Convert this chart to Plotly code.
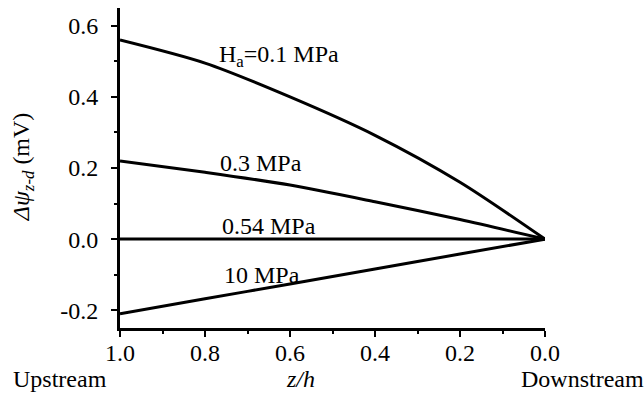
import plotly.graph_objects as go

z = [1.0, 0.8, 0.6, 0.4, 0.2, 0.0]
psi_01 = [0.56, 0.495, 0.40, 0.292, 0.16, 0.0]
psi_03 = [0.22, 0.188, 0.152, 0.105, 0.055, 0.0]
psi_054 = [0.0, 0.0, 0.0, 0.0, 0.0, 0.0]
psi_10 = [-0.21, -0.168, -0.126, -0.084, -0.042, 0.0]
labels = ["H<sub>a</sub>=0.1 MPa", "0.3 MPa", "0.54 MPa", "10 MPa"]
label_x = [0.772, 0.769, 0.765, 0.76]
label_y = [0.516, 0.213, 0.036, -0.101]
xticks = [1.0, 0.8, 0.6, 0.4, 0.2, 0.0]
yticks = [-0.2, 0.0, 0.2, 0.4, 0.6]

FONT = "Liberation Serif, Times New Roman, serif"
fs = 24

fig = go.Figure()
for ys in [psi_01, psi_03, psi_054, psi_10]:
    fig.add_trace(go.Scatter(x=z, y=ys, mode="lines",
                             line=dict(color="black", width=3, shape="spline", smoothing=0.8),
                             showlegend=False))

for t, lx, ly in zip(labels, label_x, label_y):
    fig.add_annotation(x=lx, y=ly, xref="x", yref="y", text=t, showarrow=False,
                       xanchor="left", yanchor="middle",
                       font=dict(family=FONT, size=fs, color="black"))

fig.add_annotation(x=-0.228, y=0.503, xref="paper", yref="paper",
                   text="<i>Δψ<sub>z-d</sub></i> (mV)", textangle=-90,
                   xanchor="center", yanchor="middle",
                   showarrow=False, font=dict(family=FONT, size=fs, color="black"))
fig.add_annotation(x=0.424, y=-0.16, xref="paper", yref="paper",
                   text="<i>z/h</i>", showarrow=False,
                   xanchor="center", yanchor="middle",
                   font=dict(family=FONT, size=fs, color="black"))
fig.add_annotation(x=-0.141, y=-0.16, xref="paper", yref="paper",
                   text="Upstream", showarrow=False,
                   xanchor="center", yanchor="middle",
                   font=dict(family=FONT, size=fs, color="black"))
fig.add_annotation(x=1.089, y=-0.16, xref="paper", yref="paper",
                   text="Downstream", showarrow=False,
                   xanchor="center", yanchor="middle",
                   font=dict(family=FONT, size=fs, color="black"))

axis_common = dict(showline=True, linecolor="black", linewidth=3,
                   ticks="outside", tickcolor="black", tickwidth=2, ticklen=6,
                   showgrid=False, zeroline=False,
                   tickfont=dict(family=FONT, size=fs, color="black"))

fig.update_xaxes(range=[1.0, 0.0], tickvals=xticks,
                 ticktext=[f"{v:.1f}" for v in xticks],
                 ticklabelstandoff=-5,
                 minor=dict(dtick=0.1, ticks="outside", ticklen=3, tickcolor="black", tickwidth=2),
                 **axis_common)
fig.update_yaxes(range=[-0.25, 0.65], tickvals=yticks,
                 ticktext=[f"{v:.1f}" for v in yticks],
                 ticklabelstandoff=8,
                 minor=dict(dtick=0.1, ticks="outside", ticklen=3, tickcolor="black", tickwidth=2),
                 **axis_common)

fig.update_layout(width=644, height=406, margin=dict(l=120, r=99, t=8, b=78),
                  plot_bgcolor="white", paper_bgcolor="white",
                  font=dict(family=FONT, size=fs, color="black"))

fig.write_html("out.html")
